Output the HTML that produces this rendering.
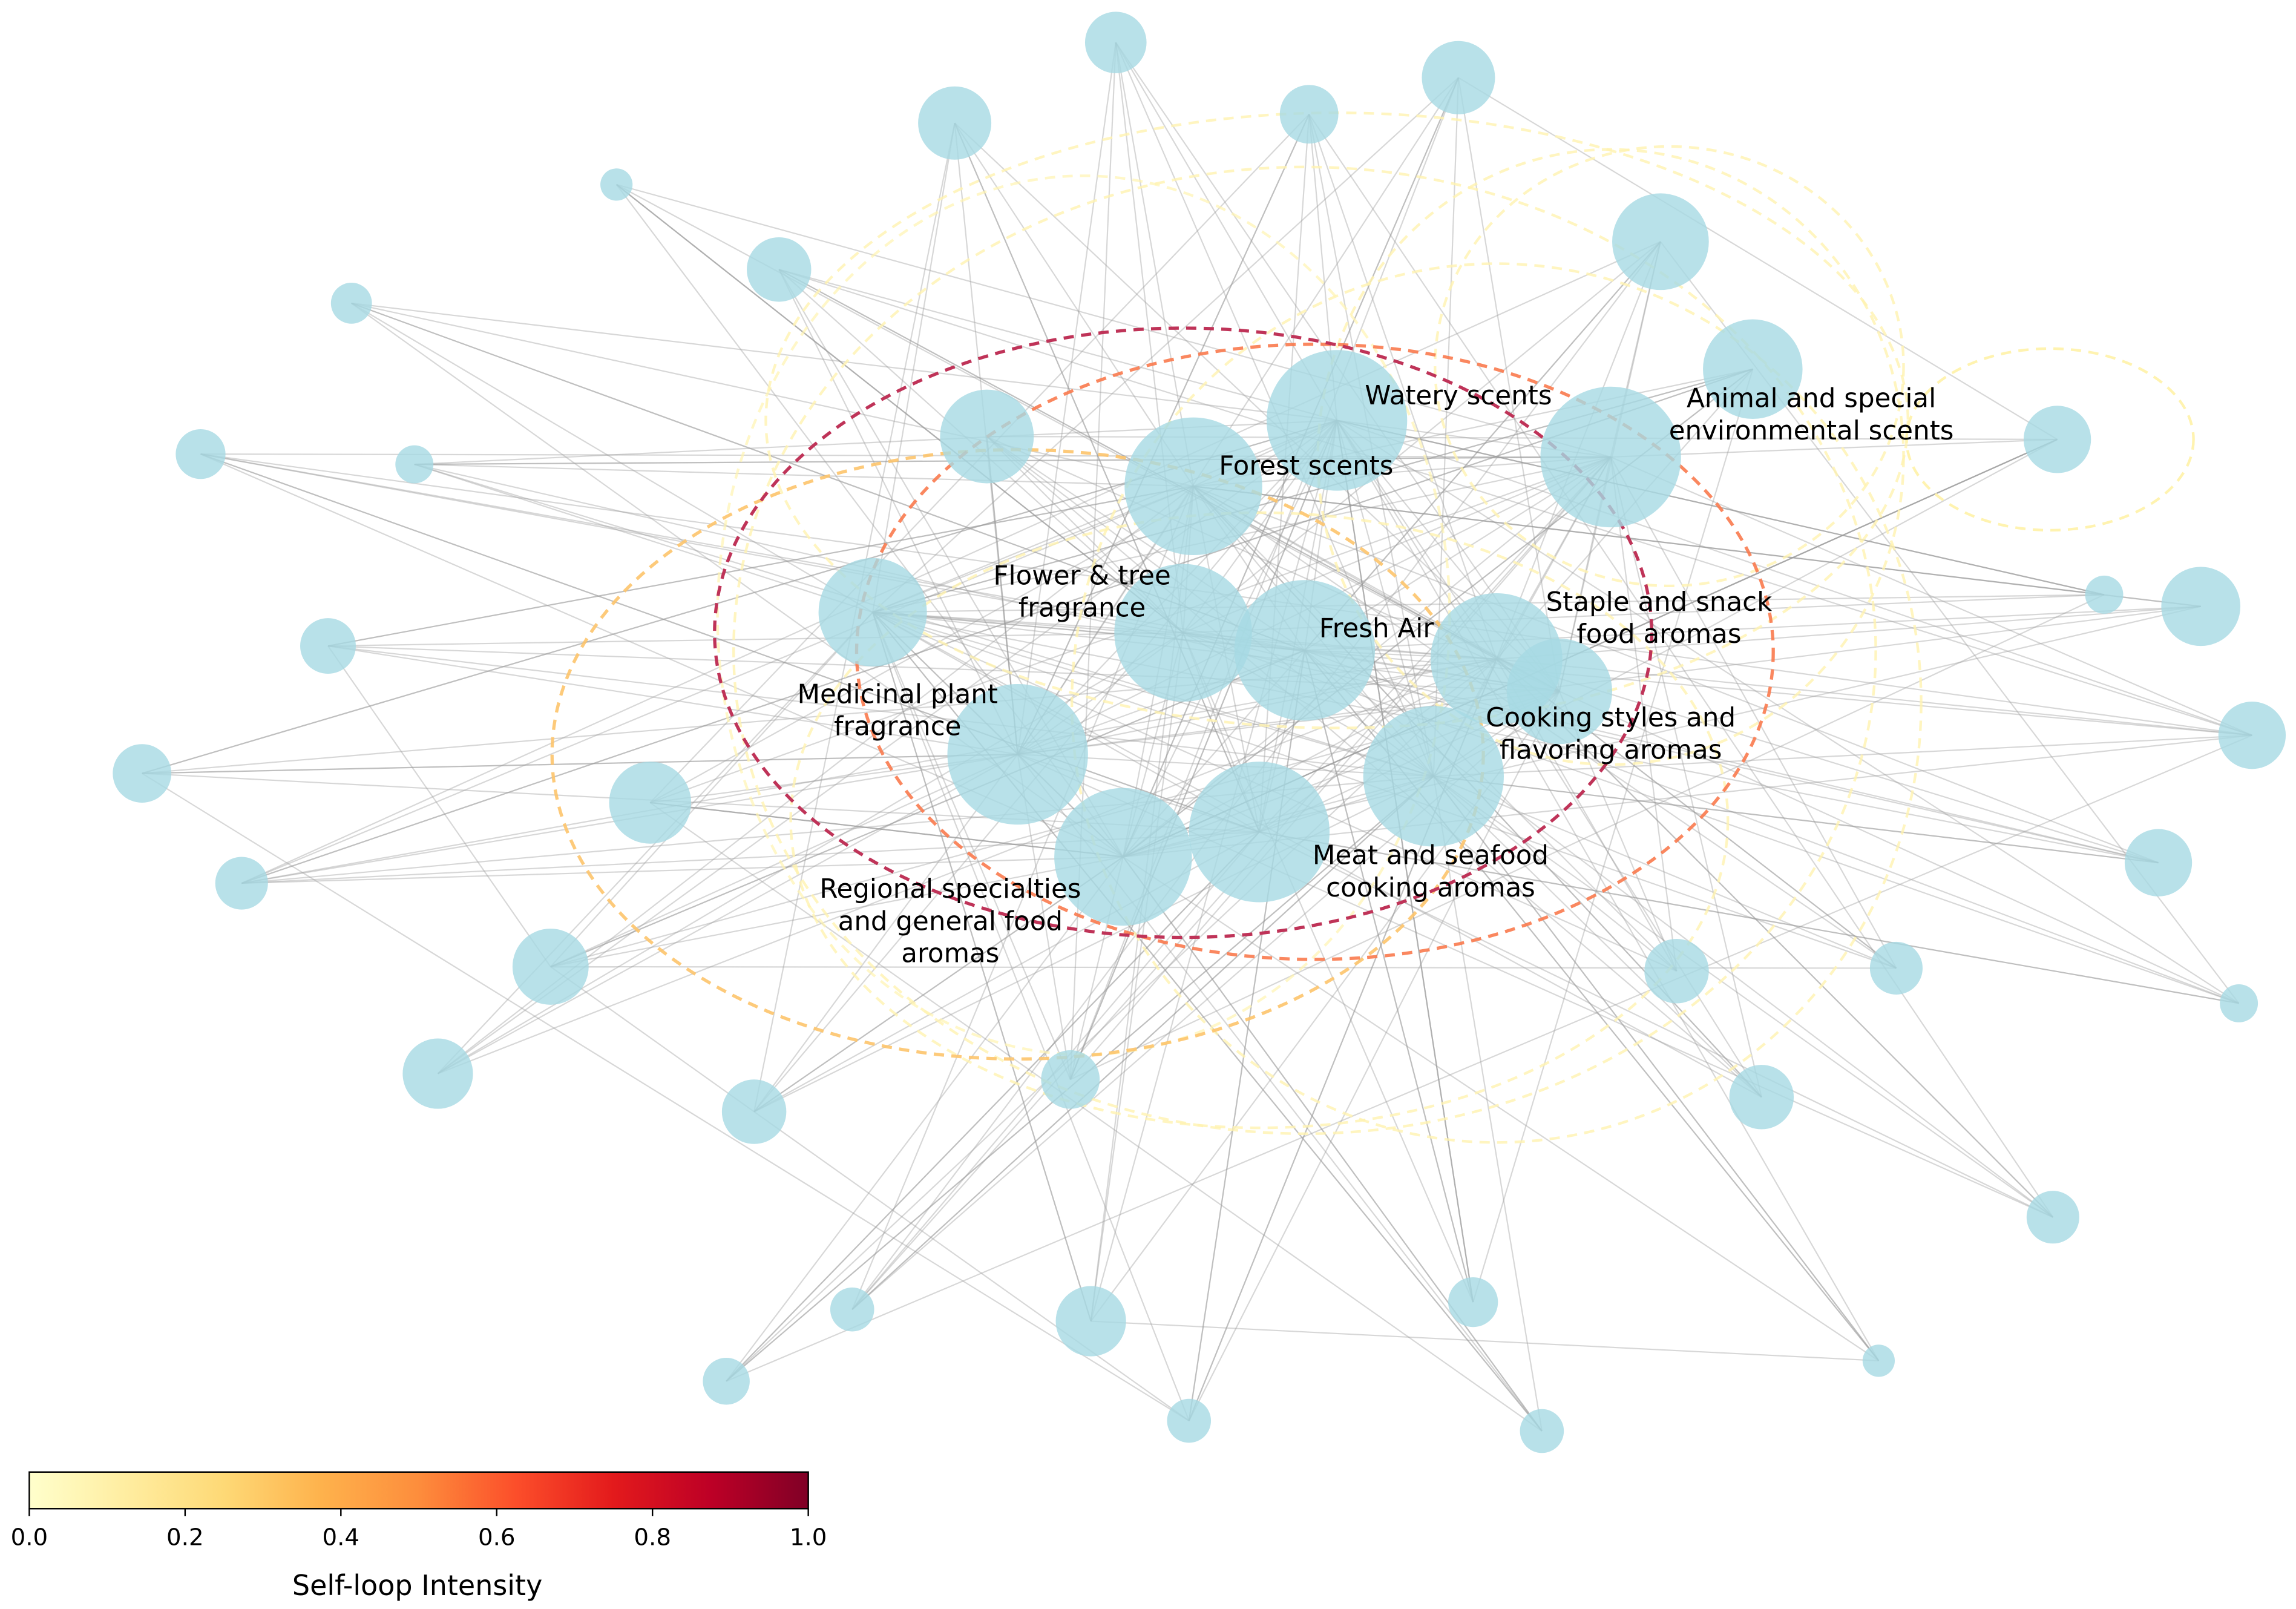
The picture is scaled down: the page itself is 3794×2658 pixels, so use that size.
<!DOCTYPE html>
<html><head><meta charset="utf-8">
<style>html,body{margin:0;padding:0;background:#fff;}svg{display:block}</style>
</head><body>
<svg id="s" width="3794" height="2658" viewBox="0 0 1568 1098.5" xmlns="http://www.w3.org/2000/svg" font-family="DejaVu Sans, Liberation Sans, sans-serif">
<defs><linearGradient id="cb" x1="0" x2="1" y1="0" y2="0">
<stop offset="0" stop-color="#ffffcc"/><stop offset="0.125" stop-color="#ffeda0"/><stop offset="0.25" stop-color="#fed976"/><stop offset="0.375" stop-color="#feb24c"/><stop offset="0.5" stop-color="#fd8d3c"/><stop offset="0.625" stop-color="#fc4e2a"/><stop offset="0.75" stop-color="#e31a1c"/><stop offset="0.875" stop-color="#bd0026"/><stop offset="1" stop-color="#800026"/></linearGradient></defs>
<g id="edges" stroke="#9a9a9a" stroke-opacity="0.4" stroke-width="0.9"></g>
<g fill="none" stroke-dasharray="7,5" stroke-width="2.2">
<ellipse cx="913" cy="287" rx="390" ry="210" stroke="#fff3b0" stroke-width="1.8" opacity="0.8"/>
<ellipse cx="1100" cy="312" rx="200" ry="210" stroke="#fff3b0" stroke-width="1.8" opacity="0.8"/>
<ellipse cx="1400" cy="300" rx="98" ry="62" stroke="#fff3b0" stroke-width="1.8"/>
<ellipse cx="1140" cy="250" rx="160" ry="150" stroke="#fff3b0" stroke-width="1.8" opacity="0.8"/>
<ellipse cx="891" cy="444" rx="390" ry="330" stroke="#fff3b0" stroke-width="1.8" opacity="0.8"/>
<ellipse cx="1022" cy="480" rx="290" ry="300" stroke="#fff3b0" stroke-width="1.8" opacity="0.8"/>
<ellipse cx="860" cy="560" rx="320" ry="210" stroke="#fff3b0" stroke-width="1.8" opacity="0.8"/>
<ellipse cx="740" cy="420" rx="250" ry="300" stroke="#fff3b0" stroke-width="1.8" opacity="0.7"/>
<ellipse cx="695" cy="515" rx="318" ry="208" stroke="#fdc46c" opacity="0.9"/>
<ellipse cx="898" cy="445" rx="313" ry="210" stroke="#f97a4e" opacity="0.9"/>
<ellipse cx="808" cy="432" rx="320" ry="208" stroke="#bf3358"/>
</g>
<g id="nodes" fill="#a6d9e4" fill-opacity="0.8"></g>
<g font-size="18" fill="#000" text-anchor="middle">
<text x="996" y="276">Watery scents</text>
<text x="1237" y="278">Animal and special</text><text x="1237" y="300">environmental scents</text>
<text x="892" y="324">Forest scents</text>
<text x="739" y="399">Flower &amp; tree</text><text x="739" y="421">fragrance</text>
<text x="940" y="435">Fresh Air</text>
<text x="1133" y="417">Staple and snack</text><text x="1133" y="439">food aromas</text>
<text x="613" y="480">Medicinal plant</text><text x="613" y="502">fragrance</text>
<text x="1100" y="496">Cooking styles and</text><text x="1100" y="518">flavoring aromas</text>
<text x="977" y="590">Meat and seafood</text><text x="977" y="612">cooking aromas</text>
<text x="649" y="613">Regional specialties</text><text x="649" y="635">and general food</text><text x="649" y="657">aromas</text>
</g>
<rect x="20" y="1005" width="532" height="25" fill="url(#cb)" stroke="#000" stroke-width="1"/>
<g stroke="#000" stroke-width="1"><line x1="20" y1="1030" x2="20" y2="1035"/><line x1="126.4" y1="1030" x2="126.4" y2="1035"/><line x1="232.8" y1="1030" x2="232.8" y2="1035"/><line x1="339.2" y1="1030" x2="339.2" y2="1035"/><line x1="445.6" y1="1030" x2="445.6" y2="1035"/><line x1="552" y1="1030" x2="552" y2="1035"/></g>
<g font-size="16" text-anchor="middle"><text x="20" y="1055">0.0</text><text x="126.4" y="1055">0.2</text><text x="232.8" y="1055">0.4</text><text x="339.2" y="1055">0.6</text><text x="445.6" y="1055">0.8</text><text x="552" y="1055">1.0</text>
<text x="285" y="1089" font-size="19">Self-loop Intensity</text></g>
</svg>
<script>
var big=[[913,287,48],[1100,312,48],[815,332,47],[808,432,47],[891,444,48],[1022,450,45],[1065,472,36],[596,418,37],[695,515,48],[860,568,48],[767,585,47],[979,530,48]];
var sm=[[762,29,21],[652,84,25],[894,78,20],[996,53,25],[421,126,11],[532,184,22],[240,207,14],[1134,165,33],[1197,252,34],[674,298,32],[137,310,17],[283,317,13],[1405,300,23],[1437,406,13],[1503,414,27],[1538,502,23],[224,441,19],[97,528,20],[444,548,28],[165,603,18],[376,660,26],[1474,589,23],[1145,663,22],[1295,661,18],[1529,685,13],[299,733,24],[515,759,22],[731,737,20],[1203,749,22],[1402,831,18],[582,894,15],[745,902,24],[1006,889,17],[496,943,16],[812,970,15],[1053,977,15],[1283,929,11]];
var all=big.concat(sm),ns="http://www.w3.org/2000/svg",E=document.getElementById('edges'),N=document.getElementById('nodes');
var seed=7;function r(){seed=(seed*16807)%2147483647;return seed/2147483647;}
function ln(a,b){var l=document.createElementNS(ns,'line');l.setAttribute('x1',a[0]);l.setAttribute('y1',a[1]);l.setAttribute('x2',b[0]);l.setAttribute('y2',b[1]);E.appendChild(l);}
for(var i=0;i<big.length;i++)for(var j=i+1;j<big.length;j++){ln(big[i],big[j]);}
for(var i=0;i<sm.length;i++){for(var k=0;k<6;k++)ln(sm[i],big[Math.floor(r()*big.length)]);if(r()<0.7)ln(sm[i],sm[Math.floor(r()*sm.length)]);}
all.forEach(function(n){var c=document.createElementNS(ns,'circle');c.setAttribute('cx',n[0]);c.setAttribute('cy',n[1]);c.setAttribute('r',n[2]);N.appendChild(c);});
</script>
</body></html>
